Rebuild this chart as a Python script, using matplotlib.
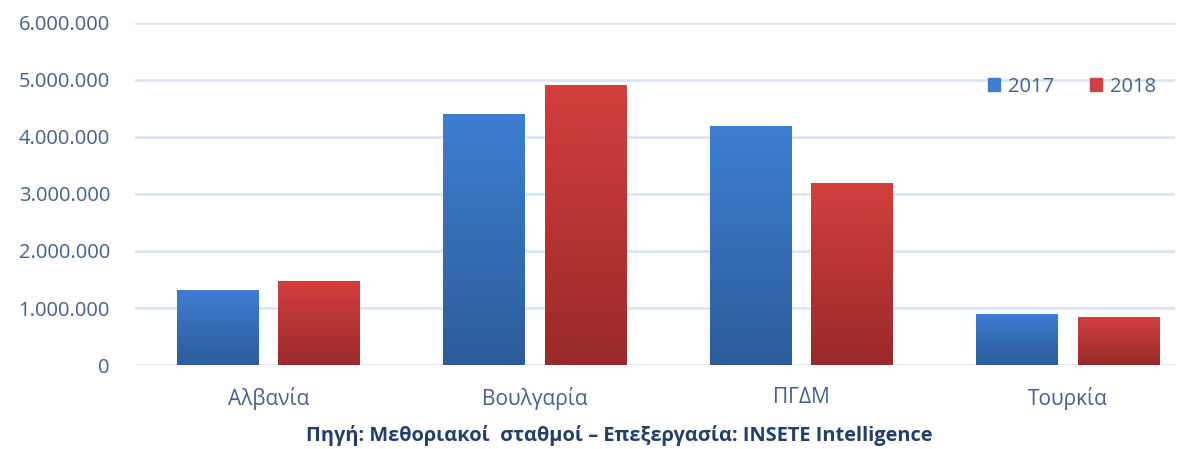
import numpy as np
import matplotlib.pyplot as plt
from matplotlib.colors import LinearSegmentedColormap
from matplotlib.ticker import FuncFormatter
from matplotlib.patches import Patch

plt.rcParams['font.family'] = ['Open Sans', 'DejaVu Sans']

countries = ['Αλβανία', 'Βουλγαρία', 'ΠΓΔΜ', 'Τουρκία']
y2017 = [1300000, 4390000, 4180000, 880000]
y2018 = [1470000, 4900000, 3190000, 830000]
years = ['2017', '2018']

txt = '#44608A'
grid = '#D6E3F3'
blue_top, blue_bot = '#3D7ED2', '#2C5C99'
red_top, red_bot = '#D23F3C', '#992A29'

fig = plt.figure(figsize=(11.84, 4.49), dpi=100)
ax = fig.add_axes([0.114, 0.187, 0.878, 0.762])

x = np.arange(len(countries))
w = 0.307
off = 0.19
b1 = ax.bar(x - off, y2017, w, color=blue_top, zorder=2)
b2 = ax.bar(x + off, y2018, w, color=red_top, zorder=2)

# κάθετη διαβάθμιση χρώματος σε κάθε μπάρα
def shade(bars, top, bot):
    cmap = LinearSegmentedColormap.from_list('g', [bot, top])
    grad = np.linspace(0, 1, 256).reshape(-1, 1)
    for p in bars:
        x0, y0 = p.get_x(), p.get_y()
        ax.imshow(grad, cmap=cmap, origin='lower', aspect='auto',
                  extent=[x0, x0 + p.get_width(), y0, y0 + p.get_height()],
                  zorder=3)

shade(b1, blue_top, blue_bot)
shade(b2, red_top, red_bot)

ax.set_xlim(-0.5, 3.4)
ax.set_ylim(0, 6000000)
ax.set_yticks(np.arange(0, 6000001, 1000000))
ax.yaxis.set_major_formatter(FuncFormatter(lambda v, p: f'{int(v):,}'.replace(',', '.')))
ax.set_xticks(x)
ax.set_xticklabels(countries)
ax.tick_params(axis='both', length=0, labelsize=14.5, colors=txt)
ax.tick_params(axis='x', pad=16, labelsize=15)
ax.tick_params(axis='y', pad=18)
ax.grid(axis='y', color=grid, linewidth=1.8, zorder=0)
for s in ax.spines.values():
    s.set_visible(False)

handles = [Patch(color=blue_top), Patch(color=red_top)]
ax.legend(handles, years, loc='upper right', bbox_to_anchor=(1.0, 0.895), ncol=2,
          frameon=False, fontsize=14.5, labelcolor=txt, handlelength=0.6,
          handleheight=0.6, handletextpad=0.4, columnspacing=1.8)

fig.text(0.523, 0.007, 'Πηγή: Μεθοριακοί  σταθμοί – Επεξεργασία: INSETE Intelligence',
         ha='center', va='bottom', fontsize=14.4, fontweight='bold', color='#223F6B')

fig.savefig('out.png', dpi=100)
